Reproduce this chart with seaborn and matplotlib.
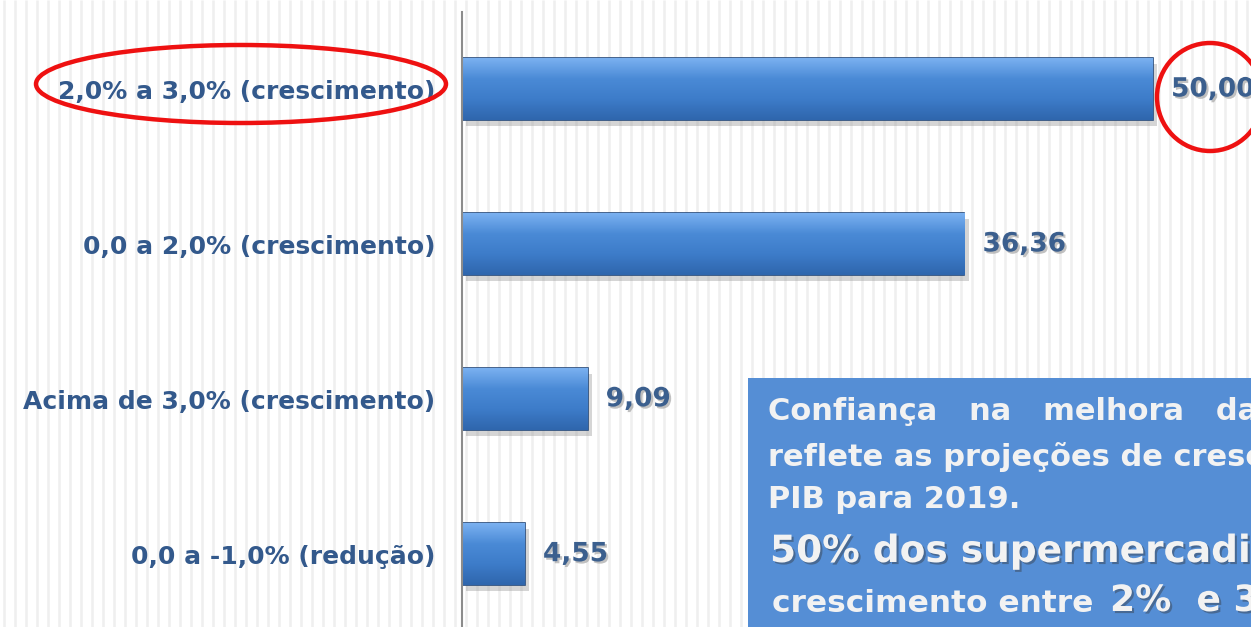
import numpy as np
import matplotlib
matplotlib.use("Agg")
import matplotlib.pyplot as plt
import matplotlib.patheffects as pe
from matplotlib.patches import Ellipse
from matplotlib.colors import LinearSegmentedColormap
import seaborn as sns

# Data
categories = ["2,0% a 3,0% (crescimento)",
              "0,0 a 2,0% (crescimento)",
              "Acima de 3,0% (crescimento)",
              "0,0 a -1,0% (redução)"]
values = [50.00, 36.36, 9.09, 4.55]

W, H = 1251, 627
sns.set_theme(style="white")
plt.rcParams['font.family'] = ['DejaVu Sans']

fig = plt.figure(figsize=(W / 100, H / 100), dpi=100)

# striped background
bg = fig.add_axes([0, 0, 1, 1], zorder=-5)
bg.set_xlim(0, W)
bg.set_ylim(0, H)
bg.vlines(np.arange(4, W, 11), 0, H, color="#efefef", lw=1.8)
bg.axis("off")

ax = fig.add_axes([462 / W, 0, 1 - 462 / W, (H - 12) / H])
ax.patch.set_alpha(0)
sns.barplot(x=values, y=categories, orient="h", color="#3d7cc9",
            saturation=1, width=0.4, edgecolor="#25497a", linewidth=1.2, ax=ax)
ax.set_xlim(0, (W - 462) / 13.82)
ax.set_ylim(3.47, -0.5)

# bevel / gradient look on each bar (light top, darker bottom)
cmap = LinearSegmentedColormap.from_list("bev", ["#7ab0f0", "#4a8ad6", "#3d7cc9", "#2f66ad"])
grad = np.linspace(0, 1, 64).reshape(-1, 1)
for p in ax.patches:
    x0, y0 = p.get_x(), p.get_y()
    w, h = p.get_width(), p.get_height()
    p.set_path_effects([pe.SimplePatchShadow(offset=(3, -4), shadow_rgbFace="#888888", alpha=0.35),
                        pe.Normal()])
    im = ax.imshow(grad, aspect="auto", cmap=cmap, extent=(x0, x0 + w, y0 + h, y0),
                   zorder=p.get_zorder() + 0.1, interpolation="bilinear")
    im.set_clip_path(p)

labels = [f"{v:.2f}".replace(".", ",") for v in values]
txts = ax.bar_label(ax.containers[0], labels=labels, padding=13, fontsize=19,
                    fontweight="bold", color="#3b5f8e")
for t in txts:
    t.set_path_effects([pe.withSimplePatchShadow(offset=(1.5, -1.5), shadow_rgbFace="#999999", alpha=0.6)])

ax.set_xlabel("")
ax.set_ylabel("")
ax.set_xticks([])
ax.tick_params(axis="y", length=0, pad=19)
for lab in ax.get_yticklabels():
    lab.set_fontsize(18)
    lab.set_fontweight("bold")
    lab.set_color("#33598c")
for s in ["top", "right", "bottom"]:
    ax.spines[s].set_visible(False)
ax.spines["left"].set_color("#8c8c8c")
ax.spines["left"].set_linewidth(1.5)

# red highlights
fig.patches.append(Ellipse((241 / W, 1 - 84 / H), 410 / W, 78 / H, transform=fig.transFigure,
                           fill=False, edgecolor="#ee1111", lw=3.2, zorder=10))
fig.patches.append(Ellipse((1210 / W, 1 - 97 / H), 106 / W, 108 / H, transform=fig.transFigure,
                           fill=False, edgecolor="#ee1111", lw=3.2, zorder=10))

# comment box
box = fig.add_axes([748 / W, 0, 1 - 748 / W, (H - 378) / H], zorder=5)
box.set_facecolor("#558ed5")
box.set_xticks([])
box.set_yticks([])
for s in box.spines.values():
    s.set_visible(False)

tc = "#f2f2f2"
shadow = [pe.withSimplePatchShadow(offset=(1.5, -1.5), shadow_rgbFace="#333333", alpha=0.4)]
fig.text(768 / W, 1 - 412 / H, "Confiança   na   melhora   da   economia", fontsize=22,
         fontweight="bold", color=tc, va="center", zorder=6)
fig.text(768 / W, 1 - 457 / H, "reflete as projeções de crescimento do", fontsize=22,
         fontweight="bold", color=tc, va="center", zorder=6)
fig.text(768 / W, 1 - 500 / H, "PIB para 2019.", fontsize=22,
         fontweight="bold", color=tc, va="center", zorder=6)
fig.text(770 / W, 1 - 552 / H, "50% dos supermercadistas projetam", fontsize=27,
         fontweight="bold", color=tc, va="center", zorder=6, path_effects=shadow)
fig.text(772 / W, 1 - 604 / H, "crescimento entre", fontsize=22.5,
         fontweight="bold", color=tc, va="center", zorder=6)
fig.text(1110 / W, 1 - 601 / H, "2%  e 3%", fontsize=26,
         fontweight="bold", color=tc, va="center", zorder=6, path_effects=shadow)

fig.savefig("out.png", dpi=100)
